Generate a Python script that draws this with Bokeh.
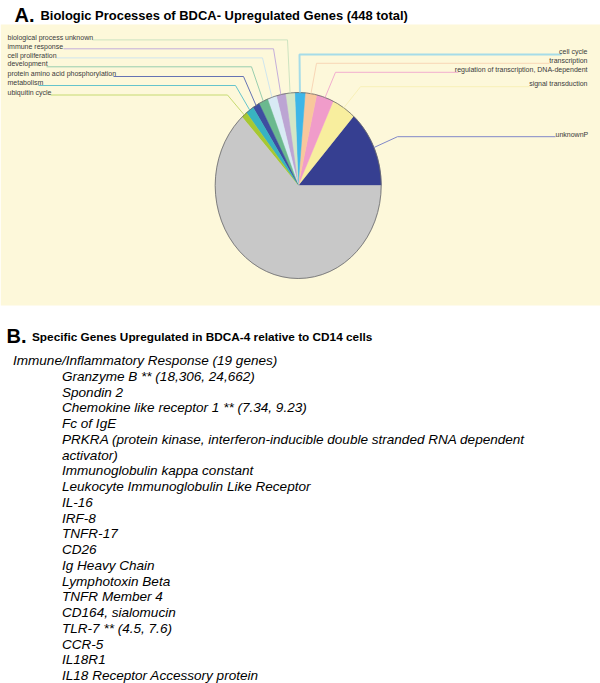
import numpy as np
from bokeh.plotting import figure
from bokeh.models import Range1d
from bokeh.core.properties import value
from bokeh.embed import file_html
from bokeh.resources import INLINE

# ---------------- data ----------------
categories = ["unknownP", "signal transduction", "regulation of transcription, DNA-dependent",
              "transcription", "cell cycle", "biological process unknown", "immune response",
              "cell proliferation", "development", "protein amino acid phosphorylation",
              "metabolism", "ubiquitin cycle", "other"]
counts = [60, 21, 15, 10, 9, 8, 8, 8, 8, 6, 7, 5, 283]
slice_colors = ["#363F91", "#F8EE9E", "#F09CCA", "#F8C79C", "#3DB6E8", "#D3E6C6", "#BCA5D3",
                "#D8EAF5", "#6BB98F", "#3E4EA0", "#38B3C1", "#A7C832", "#C8C8C8"]
leader_colors = ["#8088C8", "#F8F0B8", "#F2AECF", "#F8D6B6", "#A6DCE8", "#CDE3C0", "#C4AEDA",
                 "#CFE5EE", "#98CDAE", "#6673B3", "#66C4CC", "#C6DA70", None]

title_a = "Biologic Processes of BDCA- Upregulated Genes (448 total)"
title_b = "Specific Genes Upregulated in BDCA-4 relative to CD14 cells"
section = "Immune/Inflammatory Response (19 genes)"
genes = ["Granzyme B ** (18,306, 24,662)", "Spondin 2", "Chemokine like receptor 1 ** (7.34, 9.23)",
         "Fc of IgE",
         "PRKRA (protein kinase, interferon-inducible double stranded RNA dependent",
         "activator)",
         "Immunoglobulin kappa constant", "Leukocyte Immunoglobulin Like Receptor", "IL-16",
         "IRF-8", "TNFR-17", "CD26", "Ig Heavy Chain", "Lymphotoxin Beta", "TNFR Member 4",
         "CD164, sialomucin", "TLR-7 ** (4.5, 7.6)", "CCR-5", "IL18R1",
         "IL18 Receptor Accessory protein"]

# ---------------- layout ----------------
FONT = value("Liberation Sans")
p = figure(width=600, height=683, x_range=Range1d(0, 600), y_range=Range1d(683, 0),
           output_backend="svg", toolbar_location=None, min_border=0,
           x_axis_type=None, y_axis_type=None)
p.grid.visible = False
p.outline_line_color = None
p.background_fill_color = "white"
p.border_fill_color = "white"

# cream panel
p.quad(left=0, right=600, top=24, bottom=305, fill_color="#FDF8DA", line_color=None)

# pie (elliptical)
cx, cy, rx, ry = 297.7, 185.0, 83.0, 93.0
total = float(sum(counts))
ang = np.concatenate([[0.0], np.cumsum(counts) / total * 2 * np.pi])
xs, ys = [], []
mids = []
for i in range(len(counts)):
    t = np.linspace(ang[i], ang[i + 1], max(4, int(200 * counts[i] / total) + 4))
    xs.append(list(np.concatenate([[cx], cx + rx * np.cos(t)])))
    ys.append(list(np.concatenate([[cy], cy - ry * np.sin(t)])))
    mids.append((ang[i] + ang[i + 1]) / 2)
p.patches(xs, ys, fill_color=slice_colors, line_color=slice_colors, line_width=0.5)
p.ellipse(x=cx, y=cy, width=2 * rx, height=2 * ry, fill_color=None, line_color="#6A6A6A",
          line_width=0.8)

# label layout: (label x, label y, align, line y, far x, elbow x)
label_layout = {
    "unknownP": (555, 134, "left", 136.2, 555, 397),
    "signal transduction": (587, 83.3, "right", 86.2, 529, 360),
    "regulation of transcription, DNA-dependent": (587, 69, "right", 71.8, 458, 335),
    "transcription": (587, 59.7, "right", 62.8, 549, 316),
    "cell cycle": (587, 51, "right", 54, 561, 299),
    "biological process unknown": (7, 36.7, "left", 39.4, 92, 287),
    "immune response": (7, 45.7, "left", 48.3, 63, 273),
    "cell proliferation": (7, 54.5, "left", 57.4, 55, 262),
    "development": (7, 63.3, "left", 66.3, 46, 251),
    "protein amino acid phosphorylation": (7, 73.3, "left", 76.0, 113, 243),
    "metabolism": (7, 82.3, "left", 85.0, 38, 235),
    "ubiquitin cycle": (7, 91.7, "left", 94.5, 50, 227),
}
for i, cat in enumerate(categories):
    if cat not in label_layout:
        continue
    lx, ly, al, yl, farx, ex = label_layout[cat]
    px = cx + rx * np.cos(mids[i])
    py = cy - ry * np.sin(mids[i])
    lw = 2 if cat == "cell cycle" else 1
    p.line([farx, ex, px], [yl, yl, py], line_color=leader_colors[i], line_width=lw)
    p.text(x=[lx], y=[ly], text=[cat], text_font=FONT, text_font_size="7px",
           text_align=al, text_baseline="middle", text_color="#3A3A3A")

# titles
p.text(x=[14], y=[14], text=["A."], text_font=FONT, text_font_size="20px",
       text_font_style="bold", text_baseline="middle", text_color="black")
p.text(x=[40], y=[14.5], text=[title_a], text_font=FONT, text_font_size="12.95px",
       text_font_style="bold", text_baseline="middle", text_color="black")
p.text(x=[6], y=[335], text=["B."], text_font=FONT, text_font_size="20px",
       text_font_style="bold", text_baseline="middle", text_color="black")
p.text(x=[31.5], y=[336.5], text=[title_b], text_font=FONT, text_font_size="11.8px",
       text_font_style="bold", text_baseline="middle", text_color="black")

# gene list
y0, step = 360, 15.75
p.text(x=[12.5], y=[y0], text=[section], text_font=FONT, text_font_size="13.55px",
       text_font_style="italic", text_baseline="middle", text_color="black")
p.text(x=[61.5] * len(genes), y=[y0 + step * (k + 1) for k in range(len(genes))], text=genes,
       text_font=FONT, text_font_size="13.55px", text_font_style="italic",
       text_baseline="middle", text_color="black")

open("out.html", "w").write(file_html(p, INLINE))
